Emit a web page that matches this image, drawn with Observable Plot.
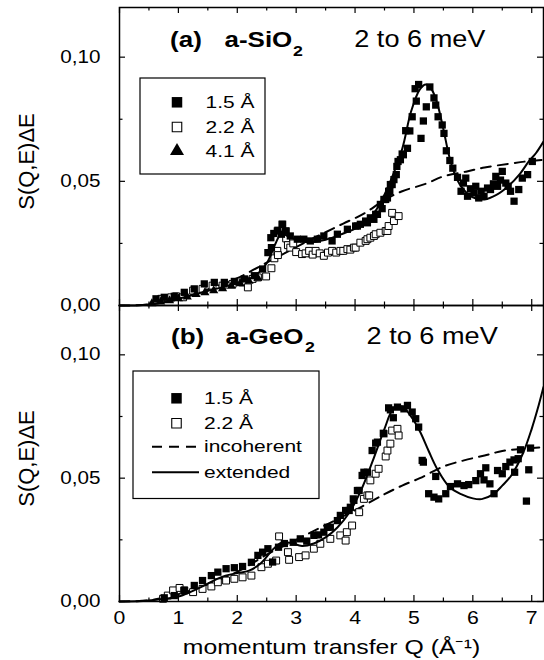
<!DOCTYPE html>
<html><head><meta charset="utf-8">
<script src="https://cdn.jsdelivr.net/npm/d3@7"></script>
<script src="https://cdn.jsdelivr.net/npm/@observablehq/plot@0.6"></script>
<style>
body{margin:0;background:#fff;}
#wrap{position:relative;width:544px;height:660px;}
#wrap > div{position:absolute;left:0;}
</style></head><body>
<div id="wrap"><div id="pa" style="top:0px"></div><div id="pb" style="top:304px"></div></div>
<script>
// ---------- axis ticks & labels ----------
const xMajor = [0, 1, 2, 3, 4, 5, 6, 7];
const xMinor = [0.5, 1.5, 2.5, 3.5, 4.5, 5.5, 6.5];
const yMajor = [0, 0.05, 0.10];
const yMinor = [0.025, 0.075];
const yTickLabels = ["0,00", "0,05", "0,10"];
const xLabel = "momentum transfer Q (Å⁻¹)";
const yLabel = "S(Q,E)ΔE";

// ---------- (a) a-SiO2 ----------
const sio2_15 = [[0.62,0.0027],[0.76,0.0033],[0.93,0.0037],[1.10,0.0053],[1.27,0.0067],[1.44,0.0087],[1.61,0.0093],[1.78,0.0093],[1.95,0.0097],[2.12,0.0107],[2.29,0.012],[2.43,0.0147],[2.52,0.0213],[2.58,0.0233],[2.57,0.0273],[2.62,0.029],[2.68,0.030],[2.69,0.0303],[2.75,0.0287],[2.76,0.0327],[2.77,0.0327],[2.82,0.030],[2.83,0.030],[2.90,0.028],[3.02,0.0267],[3.13,0.0267],[3.24,0.026],[3.36,0.0267],[3.47,0.028],[3.61,0.026],[3.70,0.0287],[3.87,0.0307],[4.01,0.032],[4.04,0.032],[4.09,0.0327],[4.18,0.034],[4.21,0.0333],[4.26,0.0353],[4.32,0.0347],[4.35,0.0367],[4.38,0.0367],[4.43,0.0407],[4.46,0.039],[4.49,0.0427],[4.52,0.0427],[4.55,0.0433],[4.57,0.046],[4.59,0.046],[4.60,0.0487],[4.63,0.0487],[4.66,0.0507],[4.70,0.0527],[4.71,0.056],[4.73,0.058],[4.77,0.0587],[4.80,0.061],[4.82,0.0607],[4.86,0.0704],[4.89,0.0633],[4.93,0.0703],[4.97,0.076],[5.02,0.0873],[5.04,0.0823],[5.08,0.089],[5.12,0.0673],[5.16,0.0743],[5.21,0.080],[5.27,0.088],[5.34,0.0836],[5.37,0.0807],[5.41,0.076],[5.48,0.0727],[5.51,0.0693],[5.55,0.0623],[5.61,0.0584],[5.66,0.0553],[5.74,0.0516],[5.80,0.046],[5.84,0.0493],[5.88,0.0513],[5.91,0.044],[5.96,0.047],[6.02,0.0453],[6.05,0.048],[6.10,0.0433],[6.14,0.046],[6.19,0.044],[6.25,0.0473],[6.30,0.0467],[6.35,0.049],[6.39,0.052],[6.42,0.048],[6.47,0.0505],[6.50,0.054],[6.56,0.0493],[6.60,0.048],[6.64,0.046],[6.70,0.042],[6.78,0.0467],[6.84,0.0513],[6.93,0.0527],[7.01,0.058]];
const sio2_22 = [[0.71,0.0027],[0.88,0.0033],[0.96,0.0037],[1.08,0.0033],[1.25,0.006],[1.41,0.0067],[1.58,0.008],[1.75,0.008],[1.92,0.0087],[2.09,0.0093],[2.18,0.0073],[2.26,0.0107],[2.35,0.0113],[2.49,0.0117],[2.58,0.015],[2.63,0.019],[2.68,0.022],[2.69,0.0203],[2.83,0.027],[2.86,0.0243],[2.90,0.0233],[2.95,0.025],[3.00,0.0215],[3.10,0.0207],[3.16,0.021],[3.22,0.022],[3.28,0.0205],[3.33,0.022],[3.40,0.021],[3.47,0.020],[3.54,0.0213],[3.61,0.022],[3.68,0.0213],[3.75,0.022],[3.80,0.022],[3.87,0.0227],[3.92,0.0225],[3.98,0.0233],[4.01,0.0233],[4.09,0.0253],[4.18,0.026],[4.21,0.0267],[4.26,0.0273],[4.32,0.028],[4.35,0.0287],[4.43,0.0293],[4.52,0.030],[4.55,0.030],[4.57,0.032],[4.63,0.0373],[4.66,0.034],[4.74,0.036]];
const sio2_41 = [[0.55,0.0008],[0.70,0.0015],[0.85,0.002],[1.00,0.0028],[1.15,0.0035],[1.30,0.0045],[1.45,0.0052],[1.60,0.006],[1.75,0.0068],[1.90,0.0078],[2.05,0.0088],[2.20,0.0098],[2.35,0.011]];
const sio2_incoherent = [[0,0],[0.5,0.0004],[1,0.0025],[1.5,0.0065],[2,0.011],[2.4,0.016],[2.8,0.021],[3.2,0.026],[3.5,0.0295],[3.8,0.033],[4.15,0.037],[4.5,0.0425],[4.8,0.046],[5.2,0.049],[5.5,0.052],[5.9,0.054],[6.2,0.0556],[6.6,0.057],[6.9,0.058],[7.2,0.0587]];
const sio2_extended = [[0,0],[0.4,0.0002],[0.8,0.0015],[1.2,0.004],[1.6,0.0065],[2.0,0.009],[2.3,0.012],[2.5,0.017],[2.65,0.025],[2.75,0.029],[2.85,0.028],[3.0,0.0265],[3.2,0.0255],[3.5,0.0265],[3.8,0.029],[4.0,0.031],[4.2,0.034],[4.4,0.040],[4.6,0.050],[4.8,0.063],[4.95,0.078],[5.1,0.087],[5.2,0.089],[5.3,0.087],[5.4,0.081],[5.5,0.071],[5.6,0.060],[5.7,0.0525],[5.8,0.048],[6.0,0.0435],[6.2,0.0427],[6.4,0.0445],[6.6,0.048],[6.8,0.053],[6.95,0.058],[7.07,0.0613],[7.2,0.066]];

// ---------- (b) a-GeO2 ----------
const geo2_15 = [[0.76,0.0015],[0.93,0.0024],[1.10,0.0045],[1.27,0.0065],[1.41,0.0085],[1.56,0.0105],[1.67,0.0119],[1.81,0.0133],[1.95,0.0137],[2.09,0.0142],[2.24,0.0159],[2.35,0.0187],[2.43,0.020],[2.52,0.0214],[2.60,0.016],[2.70,0.022],[2.80,0.0235],[2.95,0.024],[3.07,0.0254],[3.18,0.0245],[3.30,0.0268],[3.38,0.027],[3.47,0.0281],[3.53,0.0301],[3.58,0.0301],[3.70,0.0328],[3.75,0.0349],[3.84,0.0369],[3.90,0.0369],[3.92,0.0382],[3.97,0.0416],[3.98,0.041],[4.04,0.045],[4.07,0.045],[4.12,0.0511],[4.15,0.0524],[4.21,0.0524],[4.29,0.0612],[4.35,0.0642],[4.38,0.0646],[4.48,0.0682],[4.49,0.068],[4.57,0.0785],[4.60,0.0777],[4.65,0.0745],[4.72,0.0788],[4.83,0.0781],[4.89,0.0795],[4.97,0.0768],[5.03,0.0741],[5.08,0.0707],[5.14,0.0572],[5.16,0.0565],[5.25,0.0437],[5.34,0.0423],[5.37,0.0507],[5.42,0.0416],[5.54,0.0437],[5.62,0.0466],[5.74,0.0477],[5.85,0.047],[5.93,0.0474],[6.05,0.049],[6.13,0.0518],[6.19,0.0493],[6.22,0.0542],[6.29,0.0477],[6.36,0.0437],[6.42,0.0531],[6.50,0.0518],[6.56,0.0547],[6.63,0.0565],[6.70,0.0574],[6.71,0.0524],[6.77,0.0579],[6.81,0.0615],[6.91,0.0407],[6.95,0.0534],[6.98,0.0622]];
const geo2_22 = [[0.74,0.0011],[0.82,0.0024],[0.91,0.0045],[1.02,0.0055],[1.10,0.0045],[1.25,0.0038],[1.41,0.0051],[1.56,0.0061],[1.67,0.0078],[1.81,0.0085],[1.95,0.0092],[2.09,0.0098],[2.24,0.0105],[2.41,0.0139],[2.52,0.0153],[2.66,0.0166],[2.71,0.0264],[2.86,0.020],[2.88,0.0169],[3.05,0.018],[3.16,0.0187],[3.30,0.0214],[3.41,0.0234],[3.58,0.0254],[3.75,0.0268],[3.84,0.0247],[3.86,0.0281],[3.95,0.0308],[4.07,0.0362],[4.15,0.0416],[4.21,0.043],[4.24,0.043],[4.26,0.0491],[4.35,0.0518],[4.40,0.0538],[4.52,0.0588],[4.55,0.0612],[4.60,0.064],[4.63,0.0693],[4.72,0.070],[4.74,0.0673]];
const geo2_incoherent = [[0,0],[0.5,0.0005],[1,0.003],[1.5,0.007],[2,0.012],[2.5,0.019],[3,0.025],[3.5,0.031],[4,0.037],[4.5,0.0435],[4.8,0.047],[5.1,0.050],[5.5,0.0547],[5.85,0.0572],[6.2,0.0592],[6.5,0.061],[6.9,0.062],[7.2,0.0626]];
const geo2_extended = [[0,0],[0.4,0.0002],[0.8,0.0012],[1.0,0.002],[1.2,0.0038],[1.4,0.006],[1.6,0.0085],[1.8,0.0105],[2.0,0.0115],[2.2,0.0125],[2.4,0.0155],[2.6,0.021],[2.75,0.0238],[2.9,0.0238],[3.1,0.0225],[3.3,0.0235],[3.5,0.026],[3.7,0.030],[3.9,0.036],[4.1,0.045],[4.3,0.057],[4.5,0.070],[4.65,0.078],[4.8,0.079],[4.95,0.075],[5.1,0.069],[5.25,0.061],[5.4,0.0535],[5.6,0.0465],[5.8,0.0435],[6.0,0.0418],[6.15,0.0415],[6.35,0.0435],[6.5,0.047],[6.65,0.051],[6.85,0.060],[7.0,0.070],[7.1,0.078],[7.2,0.087]];

const legendA = ["1.5 Å", "2.2 Å", "4.1 Å"];
const legendB = ["1.5 Å", "2.2 Å", "incoherent", "extended"];

// ---------- drawing ----------
const FONT = '"Liberation Sans", Arial, Helvetica, sans-serif';
const ML = 119, MR = 1, W = 544;
const PW = W - ML - MR;
const STRETCH = 1.18;
const LEGEND_STRETCH = 1.27;

function ticks(H) {
  const s = {stroke: "#000", strokeWidth: 1.2};
  return [
    Plot.tickX(xMajor, {x: d => d, insetTop: H - 6, ...s}),
    Plot.tickX(xMajor, {x: d => d, insetBottom: H - 6, ...s}),
    Plot.tickX(xMinor, {x: d => d, insetTop: H - 3.5, ...s}),
    Plot.tickX(xMinor, {x: d => d, insetBottom: H - 3.5, ...s}),
    Plot.tickY(yMajor, {y: d => d, insetRight: PW - 6, ...s}),
    Plot.tickY(yMajor, {y: d => d, insetLeft: PW - 6, ...s}),
    Plot.tickY(yMinor, {y: d => d, insetRight: PW - 3.5, ...s}),
    Plot.tickY(yMinor, {y: d => d, insetLeft: PW - 3.5, ...s})
  ];
}

function titleMarks(letter, formula, o) {
  const base = {frameAnchor: "top-left", textAnchor: "start", lineAnchor: "bottom", fill: "#000"};
  return [
    Plot.text([letter], {...base, text: d => d, dx: o.letterX, dy: o.baseY, fontSize: 22, fontWeight: "bold"}),
    Plot.text([formula], {...base, text: d => d, dx: o.formX, dy: o.baseY, fontSize: 22, fontWeight: "bold"}),
    Plot.text(["2"], {...base, text: d => d, dx: o.subX, dy: o.baseY + 8.5, fontSize: 15, fontWeight: "bold"}),
    Plot.text(["2 to 6 meV"], {...base, text: d => d, dx: o.meVX, dy: o.baseY, fontSize: 23})
  ];
}

function panel({height, marginTop, marginBottom, filled, open, tri, inc, ext, title, bottomAxis}) {
  const H = height - marginTop - marginBottom;
  const marks = [
    Plot.line(inc, {x: d => d[0], y: d => d[1], stroke: "#000", strokeWidth: 2, strokeDasharray: "10,7", curve: "catmull-rom"}),
    Plot.dot(open, {x: d => d[0], y: d => d[1], symbol: "square", r: 3.9, fill: "#fff", stroke: "#000", strokeWidth: 1}),
    Plot.dot(filled, {x: d => d[0], y: d => d[1], symbol: "square", r: 4.1, fill: "#000", stroke: "none"}),
    tri ? Plot.dot(tri, {x: d => d[0], y: d => d[1], symbol: "triangle", r: 3.4, fill: "#000", stroke: "none"}) : null,
    Plot.line(ext, {x: d => d[0], y: d => d[1], stroke: "#000", strokeWidth: 2, curve: "catmull-rom"}),
    ...ticks(H),
    Plot.axisY(yMajor, {anchor: "left", tickSize: 0, tickPadding: 19, fontSize: 17.5, tickFormat: d => yTickLabels[yMajor.indexOf(d)], label: null}),
    Plot.text([yLabel], {text: d => d, frameAnchor: "left", rotate: -90, dx: -93, dy: 5, textAnchor: "middle", lineAnchor: "middle", fontSize: 22}),
    ...title,
    Plot.frame({stroke: "#000", strokeWidth: 1.5})
  ];
  if (bottomAxis) {
    marks.push(Plot.axisX(xMajor, {anchor: "bottom", tickSize: 0, tickPadding: 10, fontSize: 18, tickFormat: d => String(d), label: null}));
    marks.push(Plot.text([xLabel], {text: d => d, frameAnchor: "bottom", dy: 52, lineAnchor: "bottom", fontSize: 21}));
  }
  return Plot.plot({
    width: W, height, marginLeft: ML, marginRight: MR, marginTop, marginBottom,
    style: {fontFamily: FONT, background: "transparent", overflow: "visible", color: "#000"},
    x: {domain: [0, 7.2], axis: null},
    y: {domain: [0, 0.12], axis: null},
    marks: marks.filter(Boolean)
  });
}

function stretchOne(t, k) {
  if (t.hasAttribute("textLength")) return;
  if (!t.textContent.trim()) return;
  const L = t.getComputedTextLength();
  if (L > 0) { t.setAttribute("textLength", (L * k).toFixed(2)); t.setAttribute("lengthAdjust", "spacingAndGlyphs"); }
}

function drawLegend(svg, box, rows, labels) {
  const g = d3.select(svg).append("g").attr("font-family", FONT).attr("font-size", 16.5)
    .attr("fill", "#000").attr("text-anchor", "start");
  g.append("rect").attr("x", box.x0).attr("y", box.y0).attr("width", box.x1 - box.x0).attr("height", box.y1 - box.y0)
    .attr("fill", "#fff").attr("stroke", "#000").attr("stroke-width", 1.2);
  rows.forEach((r, i) => {
    const y = r.y;
    if (r.kind === "filled" || r.kind === "open") {
      const side = r.kind === "filled" ? 10.5 : 9.5;
      g.append("path").attr("d", d3.symbol(d3.symbolSquare, side * side)())
        .attr("transform", `translate(${box.sx},${y})`)
        .attr("fill", r.kind === "filled" ? "#000" : "#fff").attr("stroke", r.kind === "filled" ? "none" : "#000").attr("stroke-width", 1.1);
    } else if (r.kind === "tri") {
      g.append("path").attr("d", d3.symbol(d3.symbolTriangle, 85)())
        .attr("transform", `translate(${box.sx},${y})`).attr("fill", "#000");
    } else {
      g.append("line").attr("x1", box.lx0).attr("x2", box.lx1).attr("y1", y).attr("y2", y)
        .attr("stroke", "#000").attr("stroke-width", 2).attr("stroke-dasharray", r.kind === "dash" ? "10,7" : null);
    }
    const t = g.append("text").attr("x", box.tx).attr("y", y).attr("dy", "0.35em").attr("text-anchor", "start").text(labels[i]);
    stretchOne(t.node(), LEGEND_STRETCH);
  });
}

function stretchText(svg, k) {
  svg.querySelectorAll("text").forEach(t => {
    const tr = (t.getAttribute("transform") || "") + (t.parentNode.getAttribute && t.parentNode.getAttribute("transform") || "");
    if (tr.includes("rotate")) return;
    stretchOne(t, k);
  });
}

// top panel: frame 7..305
const svgA = panel({
  height: 306, marginTop: 7, marginBottom: 1,
  filled: sio2_15, open: sio2_22, tri: sio2_41, inc: sio2_incoherent, ext: sio2_extended,
  title: titleMarks("(a)", "a-SiO", {letterX: 50.6, formX: 105, subX: 173.5, meVX: 234.7, baseY: 39.7}),
  bottomAxis: false
});
document.getElementById("pa").appendChild(svgA);
drawLegend(svgA, {x0: 140, y0: 78, x1: 265, y1: 174, sx: 177, tx: 205.5},
  [{y: 102.3, kind: "filled"}, {y: 127, kind: "open"}, {y: 151, kind: "tri"}], legendA);
stretchText(svgA, STRETCH);

// bottom panel: frame 305..601 (svg placed at 304)
const svgB = panel({
  height: 356, marginTop: 1, marginBottom: 59,
  filled: geo2_15, open: geo2_22, tri: null, inc: geo2_incoherent, ext: geo2_extended,
  title: titleMarks("(b)", "a-GeO", {letterX: 51.6, formX: 106, subX: 185.6, meVX: 247, baseY: 38.3}),
  bottomAxis: true
});
document.getElementById("pb").appendChild(svgB);
const oy = 304;
drawLegend(svgB, {x0: 133, y0: 371 - oy, x1: 319, y1: 498.5 - oy, sx: 176.5, tx: 204, lx0: 152, lx1: 199},
  [{y: 398.3 - oy, kind: "filled"}, {y: 423.3 - oy, kind: "open"}, {y: 446.7 - oy, kind: "dash"}, {y: 472.3 - oy, kind: "solid"}], legendB);
stretchText(svgB, STRETCH);
</script>
</body></html>
